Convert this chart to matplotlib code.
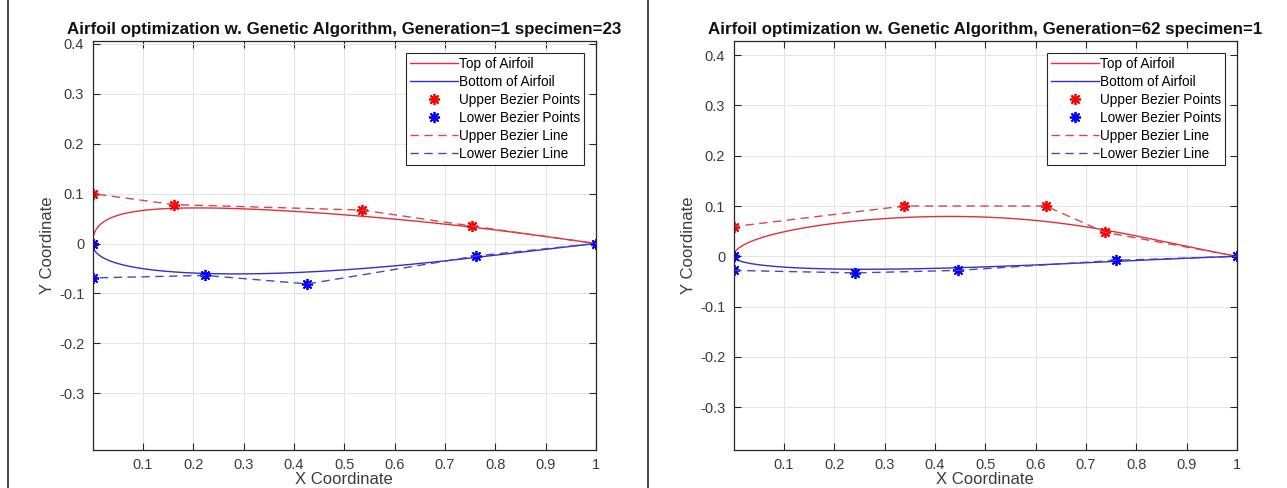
import numpy as np
import matplotlib
matplotlib.use("Agg")
import matplotlib.pyplot as plt
from matplotlib.lines import Line2D
from math import comb

plt.rcParams['font.family'] = ['Liberation Sans', 'DejaVu Sans']

# ---- data: Bezier control points ----
titles = ["Airfoil optimization w. Genetic Algorithm, Generation=1 specimen=23",
          "Airfoil optimization w. Genetic Algorithm, Generation=62 specimen=1"]

upper_x_g1 = [0.0, 0.0, 0.162, 0.536, 0.753, 1.0]
upper_y_g1 = [0.0, 0.100, 0.078, 0.067, 0.035, 0.0]
lower_x_g1 = [0.0, 0.0, 0.224, 0.427, 0.762, 1.0]
lower_y_g1 = [0.0, -0.069, -0.064, -0.081, -0.025, 0.0]

upper_x_g62 = [0.0, 0.0, 0.339, 0.620, 0.737, 1.0]
upper_y_g62 = [0.0, 0.059, 0.100, 0.100, 0.048, 0.0]
lower_x_g62 = [0.0, 0.0, 0.242, 0.445, 0.760, 1.0]
lower_y_g62 = [0.0, -0.028, -0.033, -0.028, -0.008, 0.0]

x_ticks = [0.1, 0.2, 0.3, 0.4, 0.5, 0.6, 0.7, 0.8, 0.9, 1.0]
x_tick_labels = ["0.1", "0.2", "0.3", "0.4", "0.5", "0.6", "0.7", "0.8", "0.9", "1"]
y_ticks = [-0.3, -0.2, -0.1, 0.0, 0.1, 0.2, 0.3, 0.4]
y_tick_labels = ["-0.3", "-0.2", "-0.1", "0", "0.1", "0.2", "0.3", "0.4"]

legend_labels = ["Top of Airfoil", "Bottom of Airfoil", "Upper Bezier Points",
                 "Lower Bezier Points", "Upper Bezier Line", "Lower Bezier Line"]


def bezier(px, py, n=300):
    px = np.asarray(px, float)
    py = np.asarray(py, float)
    m = len(px) - 1
    t = np.linspace(0, 1, n)
    bx = np.zeros_like(t)
    by = np.zeros_like(t)
    for k in range(m + 1):
        b = comb(m, k) * t**k * (1 - t)**(m - k)
        bx += b * px[k]
        by += b * py[k]
    return bx, by


W, H = 1287, 488
fig = plt.figure(figsize=(W / 100, H / 100), dpi=100)

panels = [
    dict(rect=(92.5 / W, 1 - 450 / H, (596 - 92.5) / W, (450 - 41) / H),
         ux=upper_x_g1, uy=upper_y_g1, lx=lower_x_g1, ly=lower_y_g1,
         ylim=(-0.414, 0.406), title=titles[0]),
    dict(rect=(733.5 / W, 1 - 450 / H, (1237 - 733.5) / W, (450 - 41) / H),
         ux=upper_x_g62, uy=upper_y_g62, lx=lower_x_g62, ly=lower_y_g62,
         ylim=(-0.385, 0.428), title=titles[1]),
]

top_col = '#e0303c'
bot_col = '#3030c8'
up_dash = '#d84450'
lo_dash = '#4848b8'
txt_col = '#3c3c3c'
ast = (8, 2, 0)

for p in panels:
    ax = fig.add_axes(p['rect'])
    tx, ty = bezier(p['ux'], p['uy'])
    bx, by = bezier(p['lx'], p['ly'])
    ax.plot(tx, ty, color=top_col, lw=1.0, label=legend_labels[0])
    ax.plot(bx, by, color=bot_col, lw=1.0, label=legend_labels[1])
    ax.plot(p['ux'], p['uy'], linestyle='none', marker=ast, ms=8, mew=1.3,
            color='#ff0000', label=legend_labels[2])
    ax.plot(p['lx'], p['ly'], linestyle='none', marker=ast, ms=8, mew=1.3,
            color='#0000ff', label=legend_labels[3])
    ax.plot(p['ux'], p['uy'], color=up_dash, lw=1.0, dashes=(6, 4), label=legend_labels[4])
    ax.plot(p['lx'], p['ly'], color=lo_dash, lw=1.0, dashes=(6, 4), label=legend_labels[5])

    ax.set_xlim(0, 1)
    ax.set_ylim(*p['ylim'])
    ax.set_xticks(x_ticks)
    ax.set_xticklabels(x_tick_labels)
    ax.set_yticks(y_ticks)
    ax.set_yticklabels(y_tick_labels)
    ax.tick_params(direction='in', top=True, right=True, length=5, width=0.8,
                   colors='#262626', labelcolor=txt_col, labelsize=10.5, pad=6)
    ax.grid(True, color='#e4e4e4', lw=0.7)
    ax.set_axisbelow(True)
    for s in ax.spines.values():
        s.set_color('#262626')
        s.set_linewidth(0.9)
    ax.set_xlabel("X Coordinate", fontsize=12, color=txt_col, labelpad=0)
    ax.set_ylabel("Y Coordinate", fontsize=12, color=txt_col, labelpad=3)
    ax.set_title(p['title'], fontsize=12.2, fontweight='bold', color='#111111', pad=5)
    leg = ax.legend(loc='upper right', fontsize=9.8, frameon=True, fancybox=False,
                    edgecolor='#262626', framealpha=1, borderaxespad=0.85,
                    handlelength=3.5, labelspacing=0.3, handletextpad=0.1,
                    borderpad=0.3, numpoints=1)
    leg.get_frame().set_linewidth(0.8)

# panel separators from the screenshot
fig.add_artist(Line2D([7.5 / W, 7.5 / W], [0, 1], color='#222222', lw=1.2))
fig.add_artist(Line2D([648 / W, 648 / W], [0, 1], color='#222222', lw=1.2))

fig.savefig("out.png", dpi=100)
